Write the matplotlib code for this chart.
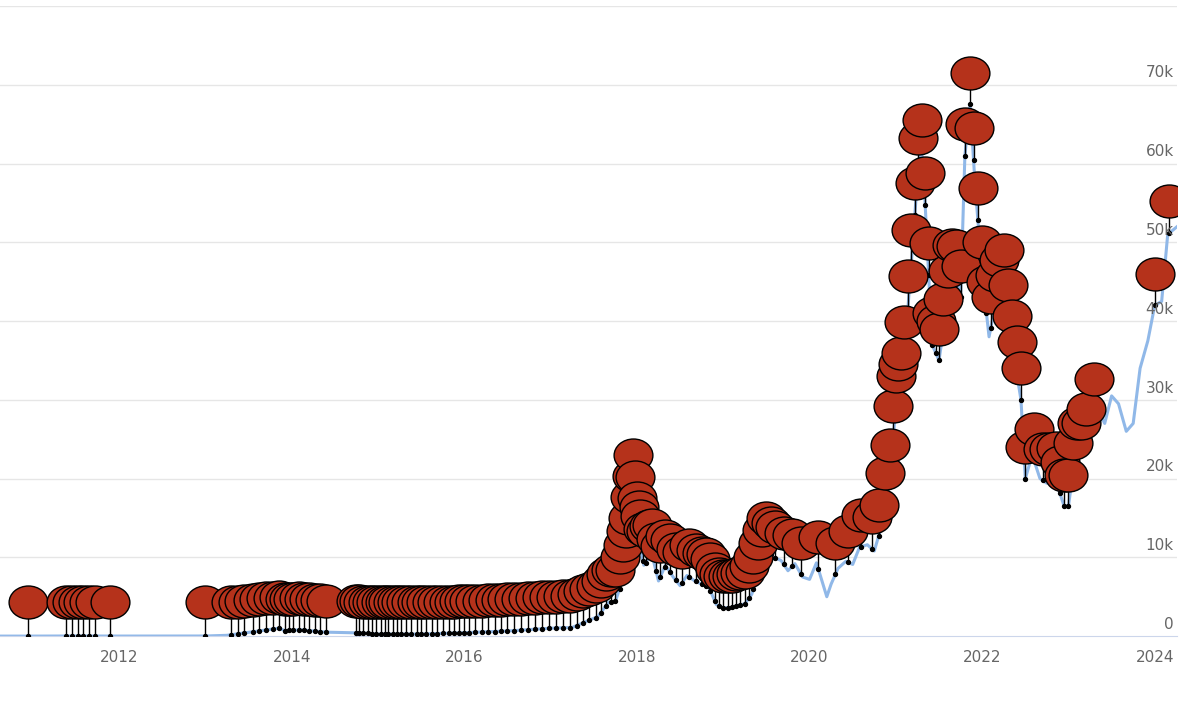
import numpy as np
import matplotlib
matplotlib.use("Agg")
import matplotlib.pyplot as plt
from matplotlib.path import Path
from matplotlib.transforms import Affine2D

price_dates = [2010.6, 2011.0, 2011.45, 2012.0, 2013.0, 2013.25, 2013.85, 2013.92, 2014.1, 2014.4, 2014.8, 2015.0, 2015.5, 2016.0, 2016.5, 2017.0,
               2017.25, 2017.4, 2017.55, 2017.67, 2017.75, 2017.83, 2017.9, 2017.96, 2018.0, 2018.08, 2018.17, 2018.25, 2018.33, 2018.42, 2018.5,
               2018.58, 2018.67, 2018.75, 2018.83, 2018.92, 2019.0, 2019.08, 2019.17, 2019.25, 2019.33, 2019.42, 2019.5, 2019.58, 2019.67,
               2019.75, 2019.83, 2019.92, 2020.0, 2020.08, 2020.2, 2020.25, 2020.33, 2020.42, 2020.5, 2020.58, 2020.67, 2020.75, 2020.83,
               2020.92, 2021.0, 2021.08, 2021.17, 2021.25, 2021.29, 2021.33, 2021.42, 2021.5, 2021.58, 2021.67, 2021.75, 2021.8, 2021.86, 2021.92, 2022.0,
               2022.08, 2022.17, 2022.25, 2022.33, 2022.45, 2022.5, 2022.58, 2022.67, 2022.75, 2022.83, 2022.95, 2023.0, 2023.08, 2023.17,
               2023.25, 2023.33, 2023.42, 2023.5, 2023.58, 2023.67, 2023.75, 2023.83, 2023.92, 2024.0, 2024.08, 2024.15, 2024.26]
price_values = [0, 0.3, 15, 5, 13, 100, 1000, 700, 800, 500, 400, 250, 260, 430, 650, 1000,
                1100, 1800, 2500, 4300, 4400, 7000, 11000, 19000, 13500, 9000, 10500, 7000, 9000, 7500, 6400,
                7700, 7000, 6600, 6300, 4000, 3600, 3600, 3900, 4100, 5300, 8500, 11000, 10000, 9600,
                8300, 9200, 7500, 7200, 9300, 5000, 6600, 8600, 9500, 9100, 11300, 11600, 10800, 13800,
                19000, 29000, 33000, 46000, 58000, 63000, 57000, 37000, 35000, 41000, 47000, 43000, 61000, 67500, 57000, 46000,
                38000, 43000, 45000, 38000, 30000, 20000, 23000, 20000, 19400, 20500, 16500, 16500, 23000, 23000,
                28000, 29000, 27000, 30500, 29500, 26000, 27000, 34000, 37500, 42000, 42500, 51000, 52000]

event_dates = [2010.95, 2011.38, 2011.45, 2011.52, 2011.58, 2011.65, 2011.72, 2011.9,
    2013.0, 2013.3, 2013.38, 2013.45, 2013.55, 2013.62, 2013.7, 2013.78, 2013.85, 2013.92, 2013.97, 2014.02, 2014.08,
    2014.14, 2014.2, 2014.27, 2014.33, 2014.4,
    2014.75, 2014.78, 2014.83, 2014.88, 2014.93, 2014.98, 2015.03, 2015.08, 2015.12, 2015.17, 2015.22, 2015.27, 2015.33,
    2015.38, 2015.45, 2015.5, 2015.56, 2015.62, 2015.68, 2015.75, 2015.82, 2015.88, 2015.94, 2016.0, 2016.06, 2016.12,
    2016.2, 2016.27, 2016.35, 2016.42, 2016.5, 2016.58, 2016.66, 2016.74, 2016.82, 2016.9, 2016.98, 2017.06, 2017.14,
    2017.22, 2017.3, 2017.38, 2017.45, 2017.52, 2017.58, 2017.64, 2017.7, 2017.75, 2017.8, 2017.84, 2017.87, 2017.9,
    2017.92, 2017.94, 2017.96, 2017.98, 2018.0, 2018.02, 2018.04, 2018.07, 2018.1, 2018.14, 2018.18, 2018.22, 2018.27,
    2018.32, 2018.38, 2018.45, 2018.52, 2018.6, 2018.68, 2018.75, 2018.8, 2018.85, 2018.9, 2018.95, 2019.0, 2019.05,
    2019.1, 2019.15, 2019.2, 2019.25, 2019.3, 2019.35, 2019.4, 2019.45, 2019.5, 2019.55, 2019.6, 2019.7, 2019.8, 2019.9,
    2020.1, 2020.3, 2020.45, 2020.6, 2020.72, 2020.8, 2020.88, 2020.93, 2020.97, 2021.0, 2021.03, 2021.06, 2021.1,
    2021.14, 2021.18, 2021.22, 2021.26, 2021.3, 2021.34, 2021.38, 2021.42, 2021.46, 2021.5, 2021.55, 2021.6, 2021.65,
    2021.7, 2021.75, 2021.8, 2021.86, 2021.9, 2021.95, 2022.0, 2022.05, 2022.1, 2022.15, 2022.2, 2022.25, 2022.3,
    2022.35, 2022.4, 2022.45, 2022.5, 2022.6, 2022.7, 2022.78, 2022.85, 2022.9, 2022.95, 2023.0, 2023.05, 2023.1,
    2023.15, 2023.2, 2023.3, 2024.0, 2024.17]

y_ticks = [0, 10000, 20000, 30000, 40000, 50000, 60000, 70000, 80000]
y_labels = ["0", "10k", "20k", "30k", "40k", "50k", "60k", "70k", ""]
x_ticks = [2012, 2014, 2016, 2018, 2020, 2022, 2024]

fig = plt.figure(figsize=(12, 7.06), dpi=100)
ax = fig.add_axes([0, 0.099, 0.981, 0.8925])
ax.set_xlim(2010.62, 2024.26)
ax.set_ylim(0, 80000)

for t in y_ticks[1:]:
    ax.axhline(t, color="#e6e6e6", lw=1, zorder=0)
ax.plot(price_dates, price_values, color="#90b8e8", lw=2.2, zorder=1)

ev = np.array(event_dates)
base = np.interp(ev, price_dates, price_values)
top = np.maximum(base + 4000, 4300)
ax.vlines(ev, base, top, color="black", lw=1, zorder=2)
ax.scatter(ev, base, s=8, color="black", zorder=3)
circ = Path.unit_circle().transformed(Affine2D().scale(1.0, 0.85))
ax.scatter(ev, top, s=780, marker=circ, facecolor="#b5321b", edgecolor="black", lw=1, zorder=4)

for spine in ["top", "left", "right"]:
    ax.spines[spine].set_visible(False)
ax.spines["bottom"].set_color("#ccd6eb")
ax.set_xticks(x_ticks)
ax.set_xticklabels([str(x) for x in x_ticks], color="#666666", fontsize=11)
ax.tick_params(axis="x", length=0, pad=10)
ax.set_yticks([])
for t, l in zip(y_ticks, y_labels):
    ax.text(2024.22, t + 1500, l, ha="right", va="center", color="#666666", fontsize=11, zorder=5)

fig.savefig("out.png", dpi=100)
